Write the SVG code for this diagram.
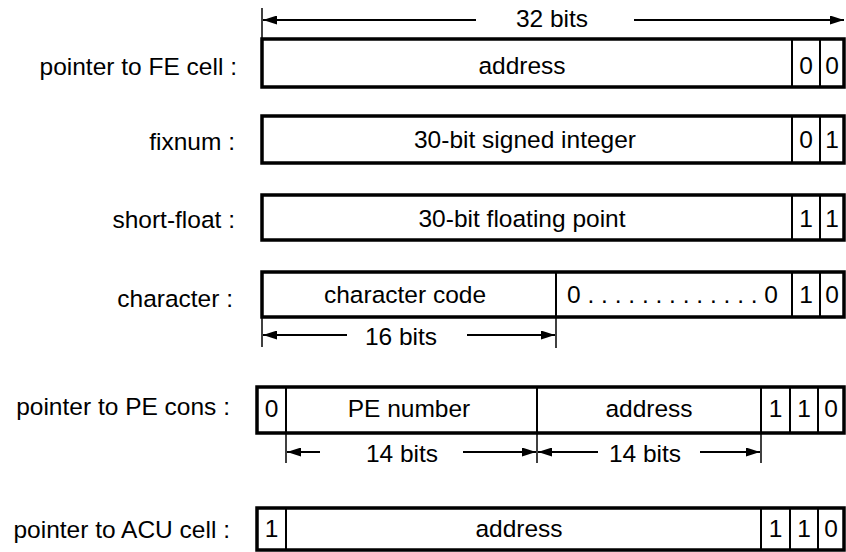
<svg xmlns="http://www.w3.org/2000/svg" width="846" height="552" viewBox="0 0 846 552">
<defs>
<marker id="ah" viewBox="0 0 14 9" refX="14" refY="4.5" markerWidth="14" markerHeight="9" markerUnits="userSpaceOnUse" orient="auto">
<path d="M0,0 L14,4.5 L0,9 Z" fill="#000"/>
</marker>
<style>
text{font-family:"Liberation Sans",Arial,sans-serif;font-size:24.5px;fill:#000}
.lbl{text-anchor:end}
.c{text-anchor:middle}
.box{fill:#fff;stroke:#000;stroke-width:3.5}
.div{stroke:#000;stroke-width:2;fill:none}
.tick{stroke:#000;stroke-width:1.5;fill:none}
.arr{stroke:#000;stroke-width:2.2;fill:none;marker-end:url(#ah)}
</style>
</defs>
<rect width="846" height="552" fill="#fff"/>

<g id="labels">
<text class="lbl" x="237" y="75">pointer to FE cell :</text>
<text class="lbl" x="235" y="150">fixnum :</text>
<text class="lbl" x="235" y="228">short-float :</text>
<text class="lbl" x="233" y="307">character :</text>
<text class="lbl" x="230" y="415">pointer to PE cons :</text>
<text class="lbl" x="230" y="538">pointer to ACU cell :</text>
</g>

<g id="row-fe-cell">
<rect class="box" x="262" y="39" width="582" height="48"/>
<line class="div" x1="792" y1="39" x2="792" y2="87"/>
<line class="div" x1="820" y1="39" x2="820" y2="87"/>
<text class="c" x="522" y="74">address</text>
<text class="c" x="806" y="74">0</text>
<text class="c" x="832" y="74">0</text>
</g>

<g id="row-fixnum">
<rect class="box" x="262" y="116" width="582" height="47"/>
<line class="div" x1="792" y1="116" x2="792" y2="163"/>
<line class="div" x1="820" y1="116" x2="820" y2="163"/>
<text class="c" x="525" y="148">30-bit signed integer</text>
<text class="c" x="806" y="148">0</text>
<text class="c" x="832" y="148">1</text>
</g>

<g id="row-short-float">
<rect class="box" x="262" y="195" width="582" height="45"/>
<line class="div" x1="792" y1="195" x2="792" y2="240"/>
<line class="div" x1="820" y1="195" x2="820" y2="240"/>
<text class="c" x="522" y="227">30-bit floating point</text>
<text class="c" x="806" y="227">1</text>
<text class="c" x="832" y="227">1</text>
</g>

<g id="row-character">
<rect class="box" x="262" y="272" width="582" height="45"/>
<line class="div" x1="556" y1="272" x2="556" y2="317"/>
<line class="div" x1="792" y1="272" x2="792" y2="317"/>
<line class="div" x1="820" y1="272" x2="820" y2="317"/>
<text class="c" x="405" y="303">character code</text>
<text x="567" y="303" textLength="211" lengthAdjust="spacing">0 . . . . . . . . . . . . . 0</text>
<text class="c" x="806" y="303">1</text>
<text class="c" x="832" y="303">0</text>
</g>

<g id="row-pe-cons">
<rect class="box" x="257" y="387" width="587" height="46"/>
<line class="div" x1="286" y1="387" x2="286" y2="433"/>
<line class="div" x1="537" y1="387" x2="537" y2="433"/>
<line class="div" x1="761" y1="387" x2="761" y2="433"/>
<line class="div" x1="790" y1="387" x2="790" y2="433"/>
<line class="div" x1="818" y1="387" x2="818" y2="433"/>
<text class="c" x="271.5" y="417">0</text>
<text class="c" x="409" y="417">PE number</text>
<text class="c" x="649" y="417">address</text>
<text class="c" x="775.5" y="417">1</text>
<text class="c" x="804" y="417">1</text>
<text class="c" x="831" y="417">0</text>
</g>

<g id="row-acu-cell">
<rect class="box" x="257" y="508" width="587" height="42"/>
<line class="div" x1="286" y1="508" x2="286" y2="550"/>
<line class="div" x1="761" y1="508" x2="761" y2="550"/>
<line class="div" x1="790" y1="508" x2="790" y2="550"/>
<line class="div" x1="818" y1="508" x2="818" y2="550"/>
<text class="c" x="271.5" y="537">1</text>
<text class="c" x="519" y="537">address</text>
<text class="c" x="775.5" y="537">1</text>
<text class="c" x="804" y="537">1</text>
<text class="c" x="831" y="537">0</text>
</g>

<g id="dimensions">
<line class="tick" x1="262" y1="8" x2="262" y2="39"/>
<line class="arr" x1="476" y1="20" x2="263" y2="20"/>
<line class="arr" x1="634" y1="20" x2="844" y2="20"/>
<text class="c" x="552" y="27">32 bits</text>

<line class="tick" x1="262" y1="317" x2="262" y2="347"/>
<line class="tick" x1="556" y1="317" x2="556" y2="348"/>
<line class="arr" x1="347" y1="335" x2="263" y2="335"/>
<line class="arr" x1="467" y1="335" x2="555" y2="335"/>
<text class="c" x="401" y="345">16 bits</text>

<line class="tick" x1="286" y1="433" x2="286" y2="463"/>
<line class="tick" x1="537" y1="433" x2="537" y2="463"/>
<line class="tick" x1="761" y1="433" x2="761" y2="463"/>
<line class="arr" x1="320" y1="452" x2="287" y2="452"/>
<line class="arr" x1="463" y1="452" x2="536" y2="452"/>
<text class="c" x="402" y="462">14 bits</text>
<line class="arr" x1="598" y1="452" x2="538" y2="452"/>
<line class="arr" x1="700" y1="452" x2="760" y2="452"/>
<text class="c" x="645" y="462">14 bits</text>
</g>
</svg>
